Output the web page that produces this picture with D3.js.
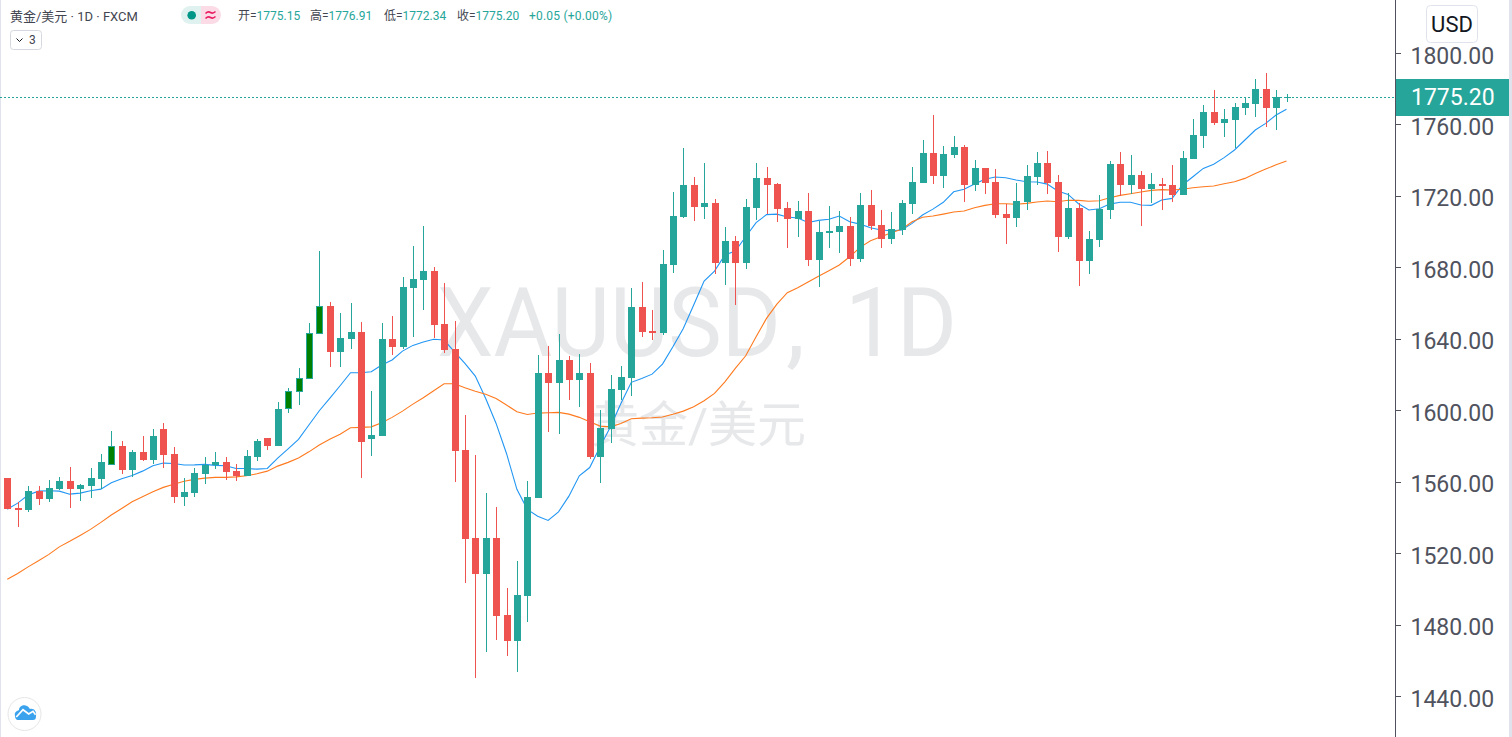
<!DOCTYPE html>
<html lang="en">
<head>
  <meta charset="UTF-8">
  <title>XAUUSD 1D</title>
  <style>
    html, body { margin: 0; padding: 0; background: #fff; overflow: hidden; }
    svg { display: block; font-family: Roboto, "Noto Sans CJK SC", sans-serif; }
    .axis path, .axis line { stroke: #50535e; fill: none; shape-rendering: crispEdges; }
    .axis text { fill: #50535e; font-size: 23px; font-family: Roboto, sans-serif; }
    .wick, .body { shape-rendering: crispEdges; }
    .ma { fill: none; stroke-width: 1.1; }
  </style>
</head>
<body>
  <svg id="chart" width="1512" height="737"></svg>
  <script src="https://cdnjs.cloudflare.com/ajax/libs/d3/7.8.5/d3.min.js"></script>
  <script>
    var opens = [
      1562.0,1545.2,1544.1,1554.7,1550.2,1555.8,1560.3,1555.8,1557.5,1561.4,
      1569.3,1579.9,1566.5,1576.6,1572.1,1589.4,1575.4,1551.4,1553.6,1564.2,
      1569.3,1571.0,1565.9,1563.1,1573.8,1584.4,1579.9,1600.6,1610.2,1617.4,
      1642.6,1658.3,1632.6,1639.8,1643.8,1583.8,1585.5,1639.8,1635.4,1668.4,
      1672.9,1677.9,1648.2,1634.2,1577.7,1528.4,1508.2,1528.4,1485.3,1470.7,
      1495.9,1550.8,1620.8,1615.2,1628.1,1616.9,1620.8,1573.8,1589.4,1611.3,
      1618.0,1657.8,1644.3,1643.2,1681.3,1708.2,1726.1,1713.8,1716.0,1682.4,
      1694.7,1682.4,1713.2,1730.0,1726.6,1713.2,1707.0,1711.5,1684.1,1699.2,
      1699.8,1703.1,1684.6,1714.9,1703.7,1695.8,1700.9,1715.4,1727.2,1744.0,
      1731.1,1742.9,1747.4,1726.1,1735.6,1727.8,1709.8,1707.6,1716.6,1730.6,
      1738.4,1727.8,1697.0,1713.2,1683.5,1695.3,1712.1,1737.8,1726.1,1731.7,
      1723.8,1726.6,1726.1,1720.5,1740.6,1753.5,1767.0,1760.8,1762.5,1769.2,
      1771.4,1779.8,1769.2,1775.15];
    var highs = [
      1562.0,1548.6,1557.5,1557.5,1560.9,1562.6,1568.2,1558.6,1567.6,1575.4,
      1588.3,1582.7,1577.7,1585.5,1589.4,1592.8,1579.4,1562.0,1567.6,1573.8,
      1576.6,1573.8,1569.8,1577.7,1583.8,1584.4,1604.6,1612.4,1623.6,1648.8,
      1689.1,1660.6,1654.4,1660.0,1649.4,1610.7,1648.8,1652.7,1674.6,1691.9,
      1703.1,1680.2,1671.2,1649.9,1597.3,1574.9,1553.6,1545.8,1500.4,1515.5,
      1560.3,1630.9,1635.9,1642.6,1630.3,1631.4,1626.4,1600.1,1619.7,1624.7,
      1668.4,1671.8,1656.1,1689.7,1722.2,1746.8,1730.6,1738.4,1718.2,1702.6,
      1697.5,1718.2,1738.4,1736.2,1727.2,1716.6,1717.1,1721.6,1705.9,1714.3,
      1711.5,1708.2,1721.6,1723.3,1712.1,1711.0,1717.7,1736.2,1751.3,1765.3,
      1747.9,1753.5,1748.5,1740.1,1735.6,1735.0,1715.4,1727.2,1737.3,1744.6,
      1745.1,1731.7,1721.6,1716.0,1700.3,1720.5,1739.5,1744.6,1742.9,1733.9,
      1732.8,1730.0,1737.3,1745.1,1763.0,1770.9,1779.3,1768.6,1772.0,1775.4,
      1785.4,1788.8,1779.3,1776.91];
    var lows = [
      1544.6,1534.6,1543.0,1546.9,1548.6,1555.3,1545.2,1549.1,1550.8,1555.8,
      1569.3,1564.2,1562.6,1571.5,1569.8,1567.6,1548.0,1546.3,1551.4,1558.6,
      1567.0,1560.9,1560.3,1563.1,1571.5,1577.7,1579.9,1598.4,1602.9,1617.4,
      1642.6,1624.2,1624.2,1634.2,1562.0,1574.3,1585.5,1630.9,1634.2,1641.0,
      1656.1,1640.4,1632.0,1559.8,1503.2,1450.0,1464.6,1471.3,1462.3,1453.4,
      1481.4,1550.8,1587.8,1586.6,1605.7,1601.8,1572.7,1559.2,1581.6,1605.7,
      1607.9,1641.0,1639.3,1642.1,1676.8,1707.6,1705.9,1707.0,1676.2,1670.1,
      1658.9,1679.0,1706.5,1709.8,1705.4,1690.8,1697.0,1680.7,1669.0,1690.8,
      1688.0,1680.7,1683.0,1700.9,1690.8,1693.0,1698.1,1709.8,1727.2,1726.6,
      1724.4,1741.2,1716.6,1722.7,1721.0,1707.6,1693.0,1702.6,1712.1,1726.1,
      1721.0,1688.6,1695.8,1669.5,1676.2,1691.4,1707.0,1719.9,1721.0,1703.1,
      1716.0,1712.1,1716.6,1720.5,1740.6,1746.8,1759.7,1753.0,1746.8,1765.3,
      1764.2,1758.6,1756.9,1772.34];
    var closes = [
      1544.6,1544.1,1554.7,1550.2,1556.4,1560.3,1555.8,1558.1,1562.0,1571.0,
      1579.9,1566.5,1576.6,1572.1,1585.5,1574.9,1551.4,1554.2,1564.8,1569.3,
      1571.0,1565.4,1563.1,1574.3,1582.7,1579.9,1600.6,1610.7,1618.0,1643.2,
      1658.3,1632.6,1640.4,1643.8,1582.2,1586.1,1639.8,1635.4,1669.0,1673.4,
      1677.9,1647.7,1633.7,1577.1,1527.8,1508.2,1528.4,1484.7,1470.7,1496.5,
      1551.4,1620.8,1615.2,1628.1,1616.9,1620.8,1573.8,1590.0,1611.8,1618.6,
      1657.8,1643.8,1643.2,1681.8,1708.7,1726.1,1713.8,1716.0,1682.4,1694.7,
      1682.4,1713.8,1730.0,1726.1,1712.6,1707.0,1711.5,1684.1,1699.8,1700.3,
      1703.1,1684.6,1714.9,1703.1,1695.8,1701.4,1716.0,1727.8,1744.0,1731.1,
      1743.4,1747.4,1726.1,1735.6,1727.2,1709.3,1707.6,1717.1,1731.1,1738.4,
      1727.2,1697.0,1713.2,1683.5,1695.8,1712.6,1737.8,1726.1,1731.7,1723.8,
      1726.6,1725.5,1720.5,1741.2,1754.1,1767.0,1760.8,1763.0,1769.8,1772.0,
      1779.8,1769.2,1775.4,1775.20];
    var maFast = [
      1544.6,1548.0,1552.5,1554.7,1554.9,1554.7,1553.0,1553.6,1554.9,1555.8,
      1559.4,1561.6,1563.5,1565.9,1568.9,1570.4,1570.2,1569.3,1569.4,1569.7,
      1569.1,1568.9,1567.4,1567.4,1567.0,1567.4,1573.2,1578.4,1583.7,1591.7,
      1599.7,1606.6,1613.7,1621.0,1621.0,1621.5,1625.3,1628.1,1633.1,1636.3,
      1638.2,1639.7,1639.3,1632.7,1626.2,1619.1,1606.6,1592.6,1575.8,1555.7,
      1544.5,1540.7,1538.3,1543.1,1551.9,1563.3,1567.9,1579.5,1590.7,1603.8,
      1615.6,1617.8,1620.2,1625.8,1635.5,1645.8,1658.9,1672.3,1677.9,1686.9,
      1689.1,1697.1,1705.0,1709.5,1709.8,1708.2,1707.6,1705.1,1706.3,1706.9,
      1708.7,1705.5,1704.2,1702.2,1700.9,1700.5,1700.9,1704.6,1709.3,1712.6,
      1716.4,1722.3,1723.7,1726.6,1729.3,1730.6,1730.2,1728.9,1727.9,1727.8,
      1726.6,1722.7,1720.8,1715.6,1712.1,1712.8,1715.4,1716.4,1716.4,1714.9,
      1714.7,1717.7,1718.6,1726.1,1730.7,1735.4,1737.7,1741.4,1745.7,1751.3,
      1756.9,1760.6,1765.3,1768.5];
    var maSlow = [
      1505.4,1508.6,1512.3,1515.7,1519.3,1523.5,1526.6,1529.9,1533.3,1537.2,
      1541.3,1545.0,1548.7,1551.5,1554.3,1556.8,1558.6,1560.2,1561.3,1562.0,
      1562.4,1562.4,1562.7,1563.3,1564.4,1565.9,1568.7,1570.8,1573.2,1576.7,
      1580.5,1583.7,1586.6,1590.2,1590.4,1590.7,1593.0,1596.0,1599.5,1603.4,
      1607.0,1610.9,1614.8,1614.8,1612.6,1610.6,1609.0,1606.6,1602.9,1599.1,
      1597.6,1598.4,1598.6,1598.8,1597.8,1596.0,1593.5,1591.1,1590.7,1592.6,
      1595.2,1595.6,1595.8,1596.2,1597.7,1599.5,1601.9,1605.3,1609.4,1615.9,
      1623.4,1630.5,1641.1,1651.4,1659.4,1665.8,1668.6,1671.8,1675.0,1678.1,
      1681.3,1685.9,1691.2,1694.9,1697.1,1699.4,1701.3,1705.5,1708.0,1708.7,
      1709.8,1711.0,1711.5,1713.4,1714.7,1715.6,1715.6,1715.3,1715.8,1716.6,
      1717.1,1716.7,1717.6,1717.5,1717.0,1717.3,1719.0,1720.3,1721.2,1722.2,
      1723.1,1723.5,1723.3,1723.7,1724.6,1725.1,1725.5,1726.8,1727.9,1729.8,
      1732.6,1735.0,1737.4,1739.5];
    // bars painted dark green on the chart
    var darkBars = [10, 27, 28, 29, 30];
    var priceTicks = [1440, 1480, 1520, 1560, 1600, 1640, 1680, 1720, 1760, 1800];
    var lastPrice = 1775.20;
    var legendItems = [
      {label: "开=", value: "1775.15", x: 238},
      {label: "高=", value: "1776.91", x: 310},
      {label: "低=", value: "1772.34", x: 384},
      {label: "收=", value: "1775.20", x: 457},
      {label: "", value: "+0.05 (+0.00%)", x: 529}
    ];

    var width = 1512, height = 737, axisX = 1395;
    var up = "#26a69a", down = "#ef5350", dark = "#008000";

    var svg = d3.select("#chart");

    var x = d3.scaleLinear().domain([0, opens.length - 1]).range([7.3, 1286.5]);
    var y = d3.scaleLinear().domain([1440, 1800]).range([696, 53]);

    // side bands
    svg.append("rect").attr("x", 0).attr("y", 0).attr("width", 1).attr("height", height).attr("fill", "#e0e3eb");
    svg.append("rect").attr("x", 1509).attr("y", 0).attr("width", 3).attr("height", height).attr("fill", "#e0e3eb");

    // watermark, squeezed to the width of the original face
    function squeezed(label, left, len) {
      var t = svg.append("text").attr("font-size", 97).attr("fill", "#e7e8ea").text(label);
      var k = len / t.node().getComputedTextLength();
      t.attr("transform", "translate(" + left + ",356) scale(" + k + ",1)");
    }
    squeezed("XAUUSD", 437, 344);
    squeezed("1D", 845, 112);
    svg.append("text").attr("x", 786).attr("y", 356)
      .attr("font-size", 97).attr("fill", "#e7e8ea").text(",");
    svg.append("text").attr("x", 698).attr("y", 442)
      .attr("text-anchor", "middle").attr("font-size", 49).attr("fill", "#e7e8ea")
      .text("黄金/美元");

    // moving averages sit under the candles
    var line = d3.line()
      .x(function(d, i) { return x(i); })
      .y(function(d) { return y(d); });
    svg.append("path").attr("class", "ma").attr("stroke", "#2196f3").attr("d", line(maFast));
    svg.append("path").attr("class", "ma").attr("stroke", "#ff7a1f").attr("d", line(maSlow));

    // last price line
    svg.append("line")
      .attr("x1", 0).attr("x2", axisX)
      .attr("y1", Math.round(y(lastPrice)) + 0.5).attr("y2", Math.round(y(lastPrice)) + 0.5)
      .attr("stroke", up).attr("stroke-dasharray", "2 2");

    // candles
    var candle = svg.append("g").selectAll("g")
      .data(opens)
      .enter().append("g");

    function cx(i) { return Math.round(x(i)); }
    function colour(i) { return closes[i] >= opens[i] ? up : down; }

    candle.append("rect").attr("class", "wick")
      .attr("x", function(d, i) { return cx(i); })
      .attr("width", 1)
      .attr("y", function(d, i) { return Math.round(y(highs[i])); })
      .attr("height", function(d, i) { return Math.max(1, Math.round(y(lows[i])) - Math.round(y(highs[i]))); })
      .attr("fill", function(d, i) { return colour(i); });

    candle.append("rect").attr("class", "body")
      .attr("x", function(d, i) { return cx(i) - 3; })
      .attr("width", 7)
      .attr("y", function(d, i) { return Math.round(y(Math.max(opens[i], closes[i]))); })
      .attr("height", function(d, i) {
        return Math.max(1, Math.round(y(Math.min(opens[i], closes[i]))) - Math.round(y(Math.max(opens[i], closes[i]))));
      })
      .attr("fill", function(d, i) { return colour(i); });

    darkBars.forEach(function(i) {
      svg.append("rect").attr("class", "body")
        .attr("x", cx(i) - 2)
        .attr("width", 5)
        .attr("y", Math.round(y(closes[i])) + 1)
        .attr("height", Math.round(y(opens[i])) - Math.round(y(closes[i])) - 2)
        .attr("fill", dark);
    });

    // price axis
    var axis = svg.append("g")
      .attr("class", "axis")
      .attr("transform", "translate(" + (axisX + 0.5) + ",0)")
      .call(d3.axisRight(y).tickValues(priceTicks).tickFormat(d3.format(".2f")).tickSize(5).tickPadding(10));
    axis.select(".domain").attr("d", "M0,0V" + height);
    axis.selectAll("text").attr("dy", "10px");

    // last price tag
    svg.append("rect").attr("x", axisX + 1).attr("y", 79).attr("width", 1509 - axisX - 1).attr("height", 37).attr("fill", up);
    svg.append("text").attr("x", 1411).attr("y", 105).attr("font-size", 23).attr("font-family", "Roboto").attr("fill", "#fff")
      .text(d3.format(".2f")(lastPrice));

    // currency button
    svg.append("rect").attr("x", 1426.5).attr("y", 5.5).attr("width", 51).attr("height", 37).attr("rx", 4)
      .attr("fill", "#fff").attr("stroke", "#e0e3eb");
    svg.append("text").attr("x", 1452).attr("y", 32).attr("text-anchor", "middle").attr("font-size", 22).attr("fill", "#131722").text("USD");

    // header
    svg.append("text").attr("x", 10).attr("y", 21).attr("font-size", 13).attr("fill", "#434651").text("黄金/美元 · 1D · FXCM");

    svg.append("path").attr("d", "M201,6H190a9,9 0 0 0 0,18H201Z").attr("fill", "#e0f2ef");
    svg.append("path").attr("d", "M201,6H212a9,9 0 0 1 0,18H201Z").attr("fill", "#fbdbe5");
    svg.append("circle").attr("cx", 191.7).attr("cy", 15.3).attr("r", 4.3).attr("fill", "#009688");
    svg.append("path").attr("d", "M205.5,13.500q2.500,-2.500 5,-1t5,-1M205.500,18.500q2.500,-2.500 5,-1t5,-1")
      .attr("fill", "none").attr("stroke", "#e91e63").attr("stroke-width", 1.6);

    var legend = svg.append("g").selectAll("text")
      .data(legendItems)
      .enter().append("text")
      .attr("x", function(d) { return d.x; })
      .attr("y", 20)
      .attr("font-size", 12)
      .attr("letter-spacing", function(d) { return d.label ? 0 : 0.2; });
    legend.append("tspan").attr("fill", "#434651").text(function(d) { return d.label; });
    legend.append("tspan").attr("fill", up).text(function(d) { return d.value; });

    // indicators toggle
    svg.append("rect").attr("x", 10.5).attr("y", 30.5).attr("width", 31).attr("height", 19).attr("rx", 3)
      .attr("fill", "#fff").attr("stroke", "#d6d8e0");
    svg.append("path").attr("d", "M16.5,38.5l3,3l3,-3").attr("fill", "none").attr("stroke", "#131722");
    svg.append("text").attr("x", 29).attr("y", 44).attr("font-size", 12).attr("fill", "#434651").text("3");

    // logo
    svg.append("circle").attr("cx", 24.5).attr("cy", 714).attr("r", 16.5).attr("fill", "#fff").attr("stroke", "#e6e6e6");
    svg.append("path")
      .attr("d", "M15,716C14,712 17,711 19,710C19,706 24,704 27,706C29,707 29,708 30,709C34,708 37,712 36,716C36,719 35,720 33,720H18C16,720 15,718 15,716Z")
      .attr("fill", "#3ba3ee");
    svg.append("path").attr("d", "M16.3,717L23,709.700L28.700,714L33,711.300L35.500,714.700").attr("fill", "none").attr("stroke", "#fff").attr("stroke-width", 1.7);
  </script>
</body>
</html>
